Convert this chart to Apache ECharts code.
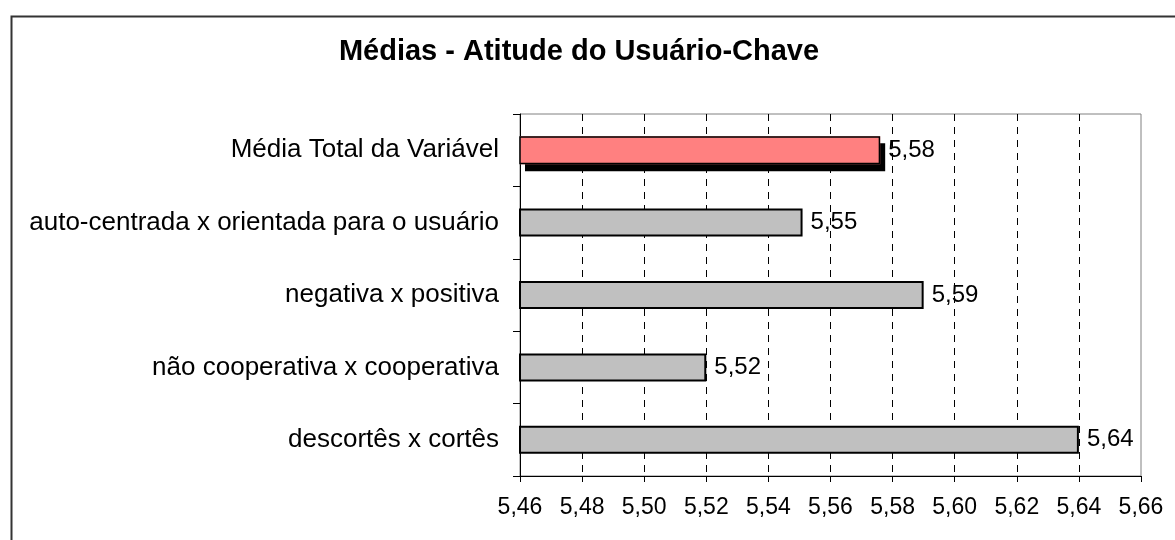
<!DOCTYPE html>
<html>
<head>
<meta charset="utf-8">
<script src="https://cdn.jsdelivr.net/npm/echarts@6/dist/echarts.min.js"></script>
<style>
html,body{margin:0;padding:0;background:#fff;}
#chart{width:1175px;height:540px;}
</style>
</head>
<body>
<div id="chart"></div>
<script>
const titleText = 'Médias - Atitude do Usuário-Chave';
const categories = [
  'Média Total da Variável',
  'auto-centrada x orientada para o usuário',
  'negativa x positiva',
  'não cooperativa x cooperativa',
  'descortês x cortês'
];
const values = [5.576, 5.551, 5.590, 5.520, 5.640];
const highlightIndex = 0;
const xMin = 5.46, xMax = 5.66, xStep = 0.02;

const fmt = v => v.toFixed(2).replace('.', ',');
const FONT = 'Liberation Sans, Arial, sans-serif';

const chart = echarts.init(document.getElementById('chart'), null, {renderer: 'canvas'});
chart.setOption({
  animation: false,
  backgroundColor: '#fff',
  title: {
    text: titleText,
    left: 574, top: 32, textAlign: 'center',
    textStyle: {fontFamily: FONT, fontWeight: 'bold', fontSize: 29, color: '#000'}
  },
  graphic: [{
    type: 'rect', left: 9, top: 14, z: 100,
    shape: {width: 1200, height: 600},
    style: {fill: 'none', stroke: '#333', lineWidth: 2}
  }],
  grid: {
    left: 520, right: 34, top: 114, bottom: 64,
    show: true, borderColor: '#808080', borderWidth: 1
  },
  xAxis: {
    type: 'value', min: xMin, max: xMax, interval: xStep,
    axisLine: {show: true, lineStyle: {color: '#000', width: 1}},
    axisTick: {show: true, inside: false, length: 6, lineStyle: {color: '#000'}},
    axisLabel: {formatter: fmt, fontFamily: FONT, fontSize: 23, color: '#000', margin: 20},
    splitLine: {show: true, showMinLine: false, showMaxLine: false,
      lineStyle: {color: '#000', type: [7, 6], width: 1}}
  },
  yAxis: {
    type: 'category', data: categories, inverse: true,
    axisLine: {show: true, lineStyle: {color: '#000', width: 1}},
    axisTick: {show: true, inside: false, length: 7, lineStyle: {color: '#000'}},
    axisLabel: {fontFamily: FONT, fontSize: 26, color: '#000', margin: 21},
    splitLine: {show: false}
  },
  series: [{
    type: 'bar',
    barWidth: 28,
    barGap: '-100%',
    data: values.map((v, i) => i === highlightIndex ? {
      value: v,
      itemStyle: {color: '#FF8080', borderWidth: 0,
        shadowColor: '#000', shadowBlur: 0, shadowOffsetX: 5, shadowOffsetY: 7}
    } : v),
    itemStyle: {color: '#C0C0C0', borderColor: '#000', borderWidth: 2},
    label: {
      show: true, position: 'right', distance: 8,
      formatter: p => fmt(p.value),
      fontFamily: FONT, fontSize: 24, color: '#000'
    }
  }, {
    type: 'bar',
    barWidth: 28,
    barGap: '-100%',
    z: 3,
    data: values.map((v, i) => i === highlightIndex ? v : '-'),
    itemStyle: {color: '#FF8080', borderColor: '#000', borderWidth: 1.5},
    label: {show: false}
  }]
});
</script>
</body>
</html>
